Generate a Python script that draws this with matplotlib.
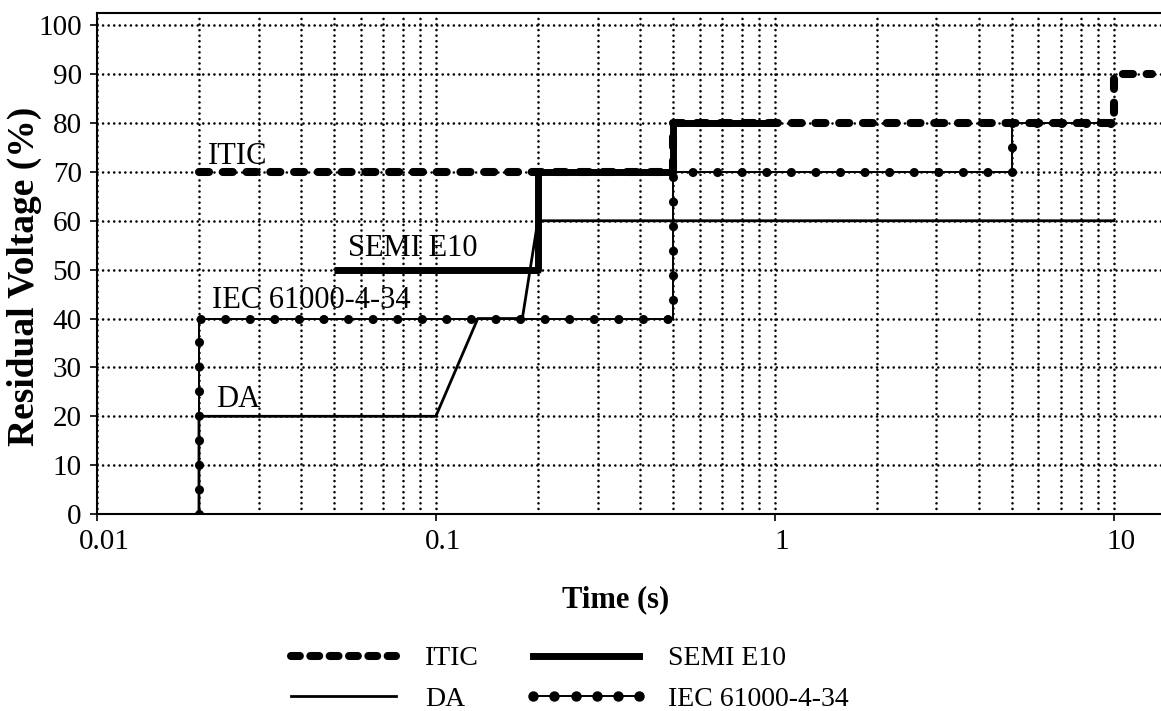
import matplotlib
matplotlib.use('Agg')
import matplotlib.pyplot as plt
from matplotlib.lines import Line2D
from matplotlib.transforms import ScaledTranslation

plt.rcParams['font.family'] = ['Liberation Serif', 'DejaVu Serif']
plt.rcParams['font.size'] = 20

# curves: time (s) / residual voltage (%)
itic_t = [0.02, 0.5, 0.5, 10, 10, 13]
itic_v = [70, 70, 80, 80, 90, 90]
semi_t = [0.05, 0.2, 0.2, 0.5, 0.5, 1]
semi_v = [50, 50, 70, 70, 80, 80]
da_t = [0.02, 0.02, 0.1, 0.133, 0.18, 0.2, 10]
da_v = [0, 20, 20, 40, 40, 60, 60]
iec_t = [0.02, 0.02, 0.5, 0.5, 5, 5, 10]
iec_v = [0, 40, 40, 70, 70, 80, 80]

names = ['ITIC', 'DA', 'SEMI E10', 'IEC 61000-4-34']
xticks = [0.01, 0.1, 1, 10]
xtick_labels = ['0.01', '0.1', '1', '10']
yticks = list(range(0, 101, 10))

fig = plt.figure(figsize=(11.61, 7.11), dpi=100)
ax = fig.add_axes([0.0835, 0.277, 0.9165, 0.7047])

dots = dict(color='k', lw=1.9, linestyle=(0, (0.01, 2.1)), dash_capstyle='round')
ax.grid(which='major', axis='both', **dots)
ax.grid(which='minor', axis='x', **dots)

ax.plot(da_t, da_v, color='k', lw=2.0)
ax.plot(iec_t, iec_v, color='k', lw=1.4)
# round "markers" evenly spaced along the IEC curve
ax.plot(iec_t, iec_v, color='k', lw=6.6, linestyle=(0, (0.001, 2.68)),
        dash_capstyle='round')
ax.plot(semi_t, semi_v, color='k', lw=5.0, solid_capstyle='butt')
ax.plot(itic_t, itic_v, color='k', lw=5.8, dashes=(1.25, 1.7),
        dash_capstyle='round')

ax.set_xscale('log')
ax.set_xlim(0.01, 13.8)
ax.set_ylim(0, 102.5)
ax.set_xticks(xticks)
ax.set_xticklabels(xtick_labels)
ax.set_yticks(yticks)
ax.tick_params(axis='both', which='major', direction='out', length=5, width=1.2,
               pad=6, labelsize=21)
ax.tick_params(axis='x', which='minor', length=0)

shift = ScaledTranslation(7 / 100, 0, fig.dpi_scale_trans)
for lab in ax.get_xticklabels():
    lab.set_transform(lab.get_transform() + shift)

for s in ['left', 'bottom', 'top']:
    ax.spines[s].set_linewidth(1.5)
ax.spines['right'].set_visible(False)

ax.set_xlabel('Time (s)', fontweight='bold', fontsize=22)
ax.xaxis.set_label_coords(0.487, -0.142)
ax.set_ylabel('Residual Voltage (%)', fontweight='bold', fontsize=27, va='center')
ax.yaxis.set_label_coords(-0.0677, 0.475)

# curve labels
lab_kw = dict(va='baseline', fontsize=22)
ax.text(0.0212, 71.6, 'ITIC', **lab_kw)
ax.text(0.0552, 52.8, 'SEMI E10', **lab_kw)
ax.text(0.0219, 42.1, 'IEC 61000-4-34', **lab_kw)
ax.text(0.0224, 21.9, 'DA', **lab_kw)

handles = [
    Line2D([], [], color='k', lw=5.8, dashes=(1.1, 1.3), dash_capstyle='round'),
    Line2D([], [], color='k', lw=2.0),
    Line2D([], [], color='k', lw=5.0),
    Line2D([], [], color='k', lw=1.4, marker='o', ms=6.5),
]
fig.legend(handles=handles, labels=names, ncol=2, frameon=False, loc='center',
           bbox_to_anchor=(0.487, 0.045), handlelength=4.4, handletextpad=0.75,
           columnspacing=1.65, labelspacing=0.55, numpoints=6, fontsize=20)

fig.savefig('out.png', dpi=100)
